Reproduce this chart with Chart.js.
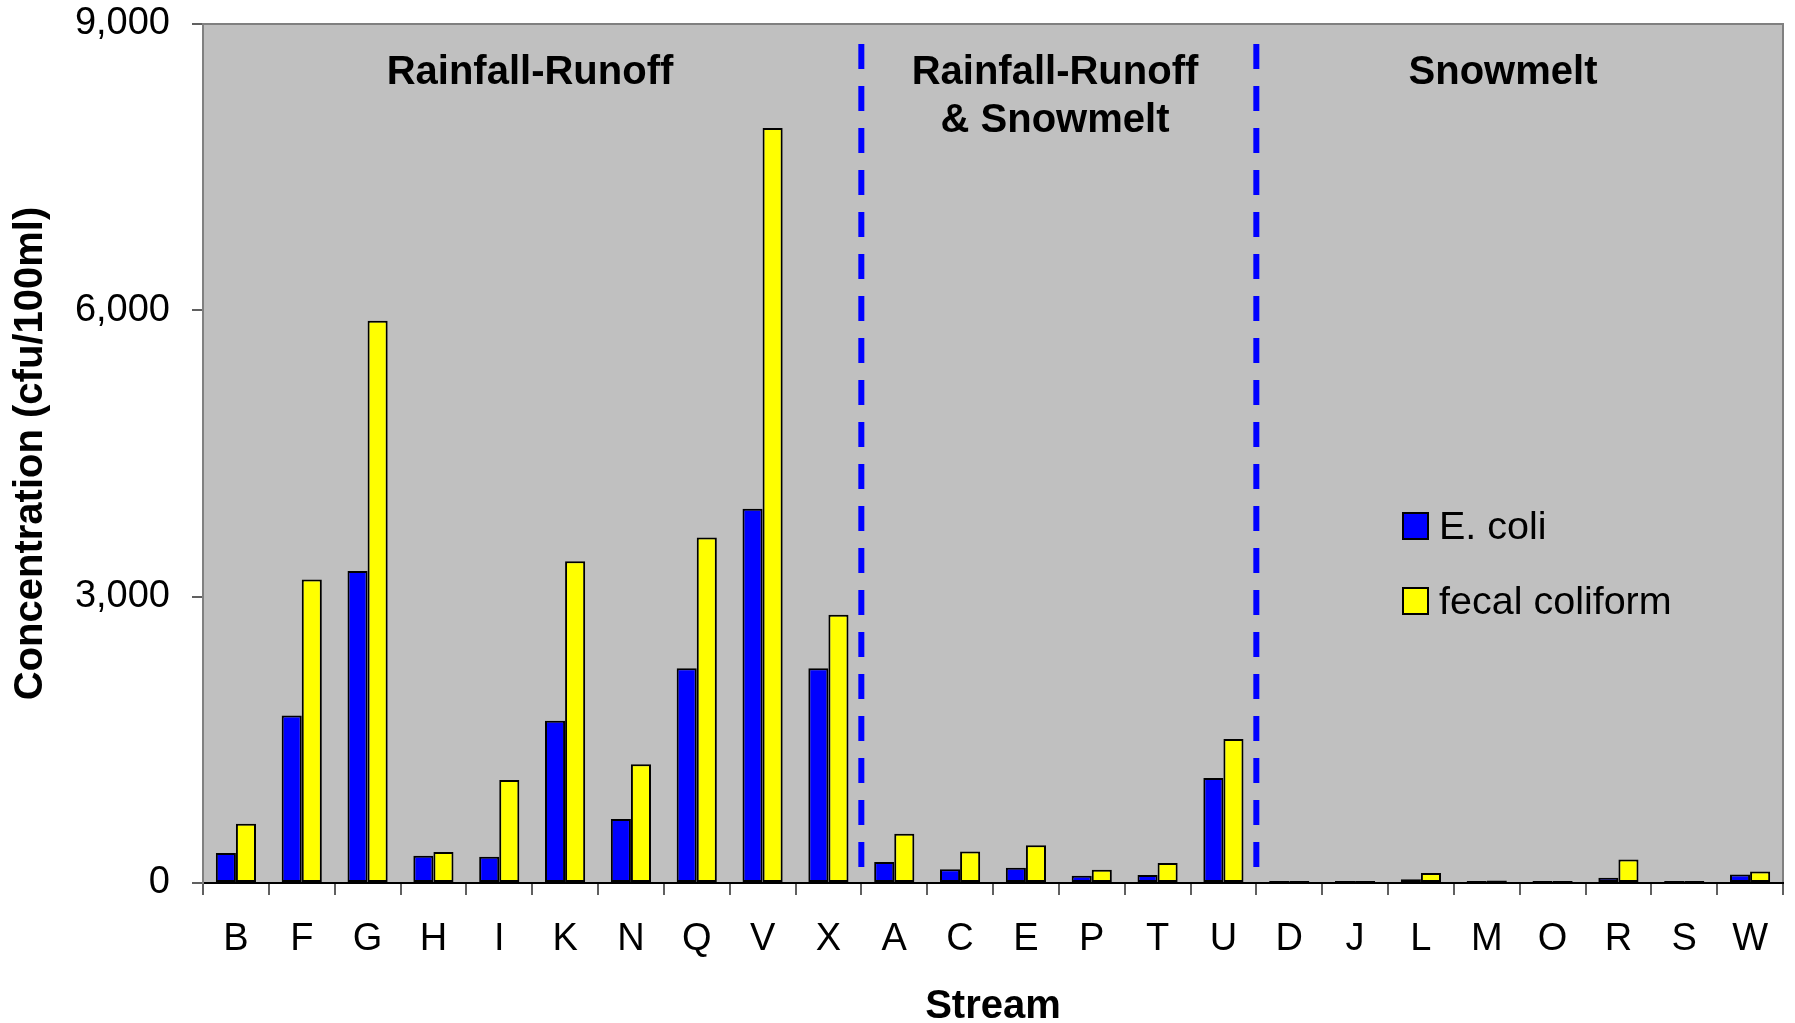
<!DOCTYPE html>
<html>
<head>
<meta charset="utf-8">
<script src="https://cdn.jsdelivr.net/npm/chart.js@4.4.1/dist/chart.umd.min.js"></script>
<style>
  html, body { margin: 0; padding: 0; background: #ffffff; }
  #wrap { width: 1795px; height: 1023px; }
</style>
</head>
<body>
<div id="wrap"><canvas id="c" width="1795" height="1023"></canvas></div>
<script>
// ---- data ----
const streams = ['B','F','G','H','I','K','N','Q','V','X','A','C','E','P','T','U','D','J','L','M','O','R','S','W'];
const ecoli   = [315,1755,3270,285,275,1700,670,2250,3920,2250,220,145,160,75,85,1100,8,15,40,8,6,55,5,90];
const fecal   = [620,3180,5890,325,1080,3370,1245,3620,7910,2810,515,330,395,140,210,1510,10,20,105,25,12,245,8,120];
const yTicks  = [0,3000,6000,9000];
const seriesNames = ['E. coli','fecal coliform'];
const groupTitles = [['Rainfall-Runoff'], ['Rainfall-Runoff','& Snowmelt'], ['Snowmelt']];
const groupStarts = [10, 16];

// ---- style ----
const FONT = '"Liberation Sans", Arial, Helvetica, sans-serif';
const groupTitleX = [530, 1055, 1503];

const decorPlugin = {
  id: 'decor',
  beforeDraw(chart) {
    const {ctx, chartArea: a} = chart;
    ctx.save();
    ctx.fillStyle = '#c0c0c0';
    ctx.fillRect(a.left, a.top, a.right - a.left, a.bottom - a.top);
    ctx.strokeStyle = '#808080';
    ctx.lineWidth = 2;
    ctx.strokeRect(a.left, a.top, a.right - a.left, a.bottom - a.top);
    ctx.restore();
  },
  afterDatasetsDraw(chart) {
    const {ctx, chartArea: a, scales: {x}} = chart;
    ctx.save();
    // dashed separators
    ctx.strokeStyle = '#0000ff';
    ctx.lineWidth = 6;
    ctx.setLineDash([25, 17]);
    groupStarts.forEach(i => {
      const px = (x.getPixelForValue(i - 1) + x.getPixelForValue(i)) / 2;
      ctx.beginPath();
      ctx.moveTo(px, a.top + 20);
      ctx.lineTo(px, a.bottom - 10);
      ctx.stroke();
    });
    ctx.setLineDash([]);
    // group titles
    ctx.fillStyle = '#000000';
    ctx.font = 'bold 40px ' + FONT;
    ctx.textAlign = 'center';
    ctx.textBaseline = 'alphabetic';
    groupTitles.forEach((lines, gi) => {
      lines.forEach((t, li) => {
        ctx.fillText(t, groupTitleX[gi], a.top + 60 + li * 48);
      });
    });
    // legend
    const colors = chart.data.datasets.map(d => d.backgroundColor);
    ctx.font = '39.5px ' + FONT;
    ctx.textAlign = 'left';
    chart.data.datasets.forEach((d, i) => {
      const by = 513 + i * 75;
      ctx.fillStyle = colors[i];
      ctx.fillRect(1403, by, 25, 26);
      ctx.strokeStyle = '#000000';
      ctx.lineWidth = 2;
      ctx.strokeRect(1403, by, 25, 26);
      ctx.fillStyle = '#000000';
      ctx.fillText(d.label, 1439, by + 26);
    });
    ctx.restore();
  }
};

new Chart(document.getElementById('c'), {
  type: 'bar',
  data: {
    labels: streams,
    datasets: [
      { label: seriesNames[0], data: ecoli, backgroundColor: '#0000ff', borderColor: '#000000', borderWidth: 2, borderSkipped: false, minBarLength: 2 },
      { label: seriesNames[1], data: fecal, backgroundColor: '#ffff00', borderColor: '#000000', borderWidth: 2, borderSkipped: false, minBarLength: 2 }
    ]
  },
  options: {
    responsive: false,
    animation: false,
    devicePixelRatio: 1,
    layout: { padding: { left: 0, top: 24, right: 12, bottom: 0 } },
    datasets: { bar: { categoryPercentage: 0.61, barPercentage: 1.0 } },
    plugins: { legend: { display: false }, tooltip: { enabled: false } },
    scales: {
      x: {
        offset: true,
        afterFit(s) { s.height = 140; s.paddingLeft = 0; s.paddingRight = 0; },
        grid: { offset: true, drawOnChartArea: false, drawTicks: true, tickLength: 12, color: '#606060', lineWidth: 2 },
        border: { display: true, color: '#000000', width: 2 },
        ticks: { color: '#000000', font: { family: FONT, size: 38, lineHeight: 1.2 }, padding: 22, maxRotation: 0, autoSkip: false },
        title: { display: true, text: 'Stream', color: '#000000', font: { family: FONT, size: 40, weight: 'bold', lineHeight: 0.825 }, padding: 0 }
      },
      y: {
        min: 0, max: 9000,
        afterFit(s) { s.width = 203; s.paddingTop = 0; s.paddingBottom = 0; },
        afterBuildTicks(s) { s.ticks = yTicks.map(v => ({ value: v })); },
        grid: { drawOnChartArea: false, drawTicks: true, tickLength: 11, color: '#606060', lineWidth: 2 },
        border: { display: true, color: '#808080', width: 2 },
        ticks: { color: '#000000', font: { family: FONT, size: 38 }, padding: 22,
                 callback: v => Number(v).toLocaleString('en-US') },
        title: { display: true, text: 'Concentration (cfu/100ml)', color: '#000000', font: { family: FONT, size: 40, weight: 'bold', lineHeight: 1.2 }, padding: { top: 7, bottom: 0 } }
      }
    }
  },
  plugins: [decorPlugin]
});
</script>
</body>
</html>
